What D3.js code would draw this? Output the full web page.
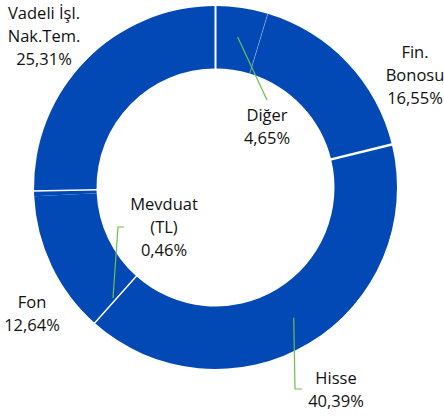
<!DOCTYPE html>
<html lang="tr">
<head>
<meta charset="UTF-8">
<title>Portföy Dağılımı</title>
<style>
    body { margin: 0; background: #fff; }
    svg { display: block; }
    .label { font-family: "Open Sans", sans-serif; font-size: 16.5px; fill: #111; text-anchor: middle; }
    .leader { fill: none; stroke: #6cbf4c; stroke-width: 1.2px; }
</style>
</head>
<body>
<div id="chart"></div>
<script src="https://d3js.org/d3.v7.min.js"></script>
<script>
// slices, clockwise from 12 o'clock
const names = ["Diğer", "Fin. Bonosu", "Hisse", "Fon", "Mevduat (TL)", "Vadeli İşl. Nak.Tem."];
const nameLines = [["Diğer"], ["Fin.", "Bonosu"], ["Hisse"], ["Fon"], ["Mevduat", "(TL)"], ["Vadeli İşl.", "Nak.Tem."]];
const shares = [4.65, 16.55, 40.39, 12.64, 0.46, 25.31];

// layout
const width = 444, height = 416;
const cx = 215.5, cy = 187.5;
const outerR = 181.5, innerR = 119;
const lineH = 23;
// label centre x, first baseline y
const labelPos = [[267, 121], [415, 58], [336, 384], [32, 308], [164, 210], [44, 19]];
// white separator at the start of each slice
const sepWidth = [2, 0.6, 2.5, 1.5, 0, 1.5];
const sepOpacity = [1, 0.55, 1, 1, 1, 1];

const fmt = v => d3.format(".2f")(v).replace(".", ",") + "%";

const svg = d3.select("#chart").append("svg")
    .attr("width", width)
    .attr("height", height);

const g = svg.append("g").attr("transform", `translate(${cx},${cy})`);

const pie = d3.pie().sort(null).value(d => d);
const arcs = pie(shares);
const arc = d3.arc().innerRadius(innerR).outerRadius(outerR);

g.selectAll("path.slice")
    .data(arcs)
    .join("path")
    .attr("class", "slice")
    .attr("d", arc)
    .attr("fill", "#0249b6");

// separators
const pt = (a, r) => [r * Math.sin(a), -r * Math.cos(a)];
g.selectAll("line.sep")
    .data(arcs.filter((d, i) => sepWidth[i] > 0))
    .join("line")
    .attr("class", "sep")
    .each(function(d) {
        const i = d.index;
        const p0 = pt(d.startAngle, innerR - 1), p1 = pt(d.startAngle, outerR + 1);
        d3.select(this)
            .attr("x1", p0[0]).attr("y1", p0[1])
            .attr("x2", p1[0]).attr("y2", p1[1])
            .attr("stroke", "#fff")
            .attr("stroke-width", sepWidth[i])
            .attr("stroke-opacity", sepOpacity[i]);
    });

// leader lines (page coordinates); first point from the slice when "mid"
const midArc = d3.arc().innerRadius(152).outerRadius(152);
const leaders = [
    { i: 0, pts: ["mid", [267, 100]] },
    { i: 2, pts: ["mid", [295, 389], [302, 389]] },
    { i: 4, pts: [[124, 227], [118, 227], [113, 298]] }
];
svg.selectAll("path.leader")
    .data(leaders)
    .join("path")
    .attr("class", "leader")
    .attr("d", d => {
        const pts = d.pts.map(p => {
            if (p === "mid") {
                const c = midArc.centroid(arcs[d.i]);
                return [cx + c[0], cy + c[1]];
            }
            return p;
        });
        return d3.line()(pts);
    });

// labels
const labels = svg.selectAll("text.label")
    .data(arcs)
    .join("text")
    .attr("class", "label")
    .attr("transform", d => `translate(${labelPos[d.index][0]},${labelPos[d.index][1]})`);

labels.each(function(d) {
    const lines = nameLines[d.index].concat([fmt(d.data)]);
    d3.select(this).selectAll("tspan")
        .data(lines)
        .join("tspan")
        .attr("x", 0)
        .attr("y", (l, k) => k * lineH)
        .text(l => l);
});
</script>
</body>
</html>
